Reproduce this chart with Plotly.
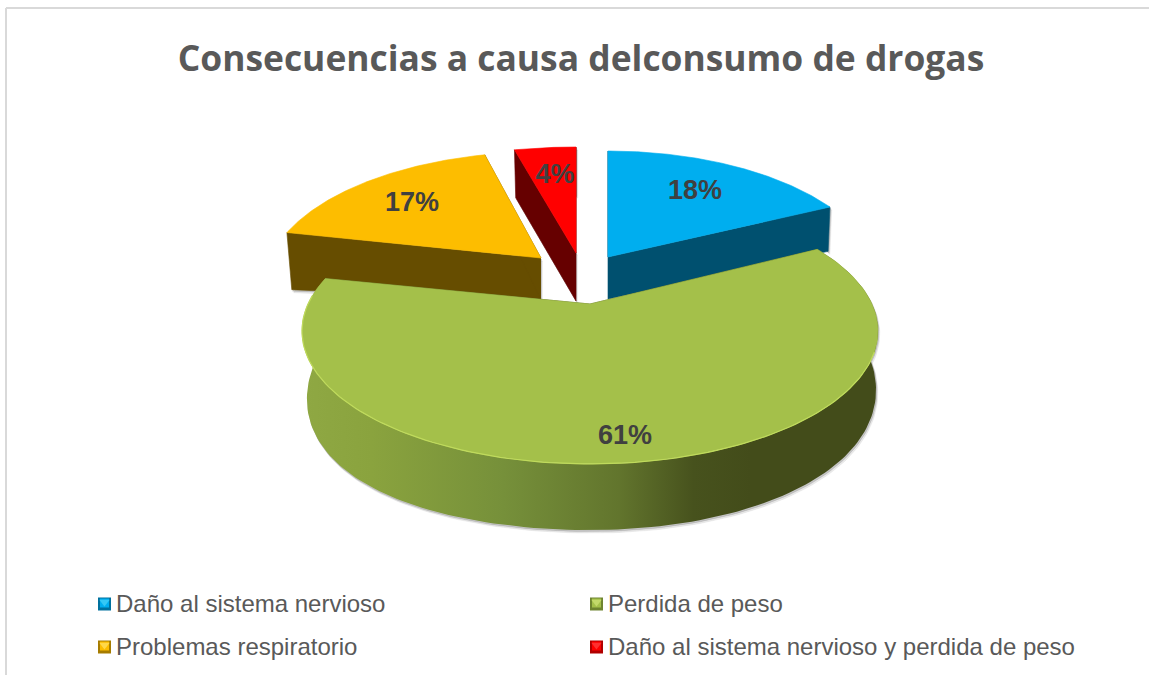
import numpy as np
import plotly.graph_objects as go

categories = ["Daño al sistema nervioso", "Perdida de peso", "Problemas respiratorio",
              "Daño al sistema nervioso y perdida de peso"]
values = [18, 61, 17, 4]
top_colors = ["#00AEEF", "#A4C04A", "#FDBD00", "#FF0000"]
wall_colors = ["#00506F", "#4C5720", "#664D00", "#660000"]

W, H = 1149, 675
# pie projection (perspective circle -> page pixels); apex of each exploded slice
K, RX, RY, DEPTH = 0.203, 282.0, 127.5, 42.0
apex = [(608, 257), (590, 304), (541, 258), (576, 253)]
xscale = [0.945, 1.0, 0.96, 1.05]
flat_depth = [None, None, None, 48.0]
# small per-slice corrections (degrees) of the drawn start/end angle for the view's perspective
angle_tweak = [(0, 0), (-2.8, -2.4), (-2.4, 0), (0, 0)]
label_xy = [(695, 192), (625, 437), (412, 204), (555, 176)]
label_text = [f"{round(100 * v / sum(values))}%" for v in values]
legend_xy = [(104.5, 606), (596.5, 606), (104.5, 649), (596.5, 649)]
bevel_light = ["#35C8F5", "#C3D96A", "#FFD84A", "#FF3030"]
bevel_dark = ["#00719E", "#6E8430", "#A67C00", "#B00000"]


def project(theta, ax, ay, sx, flat=None):
    u, v = np.sin(theta), np.cos(theta)
    w = 1 + K * v
    c = np.where(u < 0, 0.5, 0.3)
    d = DEPTH * (1 + c * u ** 2) / w ** 2
    if flat is not None:
        d = np.full_like(d, flat)
    return ax + sx * RX * u / w, ay - RY * v / w, d, np.where(u < 0, -5, -2) * u


fig = go.Figure()


def poly(xs, ys, color, **kw):
    fig.add_trace(go.Scatter(x=list(xs), y=list(ys), mode="lines", fill="toself", fillcolor=color,
                             line=dict(width=0.6, color=color), hoverinfo="skip", showlegend=False, **kw))


edges = np.concatenate([[0], np.cumsum(values)]) / sum(values) * 2 * np.pi
order = [0, 2, 3, 1]  # back slices first, the big front slice last
for s in order:
    a0 = edges[s] + np.radians(angle_tweak[s][0])
    a1 = edges[s + 1] + np.radians(angle_tweak[s][1])
    ax, ay = apex[s]
    sx = xscale[s]
    th = np.linspace(a0, a1, 160)
    px, py, pd, pb = project(th, ax, ay, sx, flat_depth[s])
    ad = flat_depth[s] or DEPTH
    bx, by = px + pb, py + pd
    # outline including thickness -> soft shadow
    outx = np.concatenate([[ax], px, bx[::-1], [ax]])
    outy = np.concatenate([[ay], py, by[::-1], [ay + ad]])
    for off, alpha in ((3.0, 0.10), (1.5, 0.22)):
        poly(outx + off * 0.6, outy + off, f"rgba(60,60,60,{alpha})")
    # straight cut walls
    for j in (0, -1):
        poly([ax, px[j], bx[j], ax], [ay, py[j], by[j], ay + ad], wall_colors[s])
    # curved rim
    if s == 1:
        fig.add_trace(go.Scatter(
            x=np.concatenate([px, bx[::-1]]), y=np.concatenate([py, by[::-1]]),
            mode="lines", fill="toself", line=dict(width=0),
            fillgradient=dict(type="horizontal", colorscale=[
                [0.0, "#8FA843"], [0.12, "#8AA33E"], [0.35, "#76903A"], [0.55, "#62752D"],
                [0.68, "#47521D"], [0.78, "#434C1A"], [1.0, "#434C1A"]]),
            hoverinfo="skip", showlegend=False))
    # top face
    poly(np.concatenate([[ax], px, [ax]]), np.concatenate([[ay], py, [ay]]), top_colors[s])
    if s == 1:
        mask = (th > np.radians(110)) & (th < np.radians(275))
        fig.add_trace(go.Scatter(x=px[mask], y=py[mask], mode="lines",
                                 line=dict(width=1.2, color="#BFDA5C"),
                                 hoverinfo="skip", showlegend=False))

# data labels
fig.add_trace(go.Scatter(x=[p[0] for p in label_xy], y=[p[1] for p in label_xy], mode="text",
                         text=label_text, textposition="middle center",
                         textfont=dict(family="Liberation Sans", size=27, color="#404040", weight="bold"),
                         hoverinfo="skip", showlegend=False))

# legend entries
for i, name in enumerate(categories):
    lx, ly = legend_xy[i]
    lm = ly - 2
    fig.add_trace(go.Scatter(x=[lx], y=[lm], mode="markers", name=name,
                             marker=dict(symbol="square", size=13, color=bevel_dark[i], line=dict(width=0)),
                             hoverinfo="skip", showlegend=False))
    fig.add_trace(go.Scatter(x=[lx], y=[lm - 1], mode="markers",
                             marker=dict(symbol="square", size=9, color=top_colors[i], line=dict(width=0)),
                             hoverinfo="skip", showlegend=False))
    fig.add_trace(go.Scatter(x=[lx], y=[lm - 2], mode="markers",
                             marker=dict(symbol="triangle-down", size=9, color=bevel_light[i], line=dict(width=0)),
                             hoverinfo="skip", showlegend=False))
    fig.add_trace(go.Scatter(x=[lx + 11.5], y=[ly], mode="text", text=[name], textposition="middle right",
                             textfont=dict(family="Liberation Sans", size=24, color="#595959"),
                             hoverinfo="skip", showlegend=False))

fig.update_layout(
    width=W, height=H, margin=dict(l=0, r=0, t=0, b=0), paper_bgcolor="white", plot_bgcolor="white",
    showlegend=False,
    title=dict(text="Consecuencias a causa delconsumo de drogas", x=581 / W, xanchor="center",
               y=1 - 59 / H, yanchor="middle",
               font=dict(family="Open Sans", size=35.4, color="#595959", weight="bold")),
    xaxis=dict(range=[0, W], visible=False, fixedrange=True),
    yaxis=dict(range=[H, 0], visible=False, fixedrange=True),
    shapes=[
        dict(type="line", xref="x", yref="y", x0=6, x1=6, y0=8, y1=H, line=dict(color="#D9D9D9", width=2)),
        dict(type="line", xref="x", yref="y", x0=6, x1=W, y0=8, y1=8, line=dict(color="#D9D9D9", width=2)),
    ],
)
fig.write_html("out.html", config={"displayModeBar": False},
               post_script="document.body.style.margin='0';document.body.style.overflow='hidden';")
